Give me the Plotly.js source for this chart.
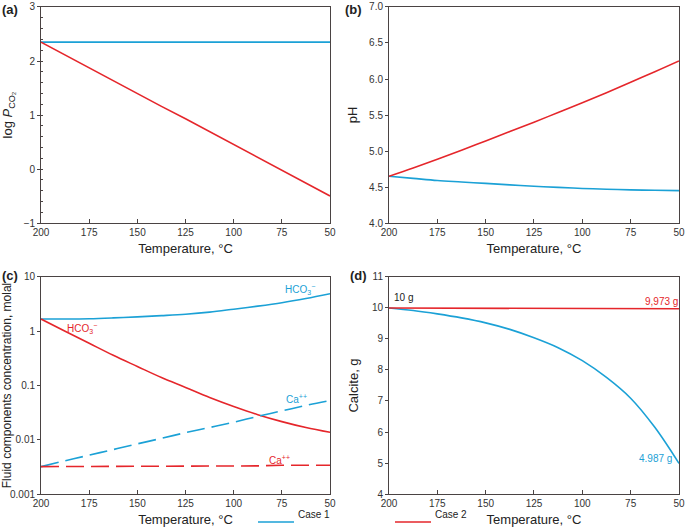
<!DOCTYPE html>
<html><head><meta charset="utf-8">
<script src="https://cdn.plot.ly/plotly-3.0.1.min.js"></script>
<style>html,body{margin:0;padding:0;background:#fff}#chart{width:685px;height:530px}</style>
</head><body><div id="chart"></div>
<script>
// Temperatures (°C)
const temps = [200, 187.5, 175, 162.5, 150, 137.5, 125, 112.5, 100, 87.5, 75, 62.5, 50];
// (a) log PCO2
const pco2Case1 = [2.35, 2.35, 2.35, 2.35, 2.35, 2.35, 2.35, 2.35, 2.35, 2.35, 2.35, 2.35, 2.35];
const pco2Case2 = [2.35, 2.11, 1.88, 1.64, 1.40, 1.16, 0.93, 0.69, 0.45, 0.21, -0.02, -0.26, -0.50];
// (b) pH
const phCase1 = [4.65, 4.62, 4.59, 4.57, 4.55, 4.53, 4.51, 4.495, 4.48, 4.47, 4.46, 4.455, 4.45];
const phCase2 = [4.65, 4.765, 4.885, 5.01, 5.14, 5.27, 5.40, 5.535, 5.67, 5.81, 5.955, 6.10, 6.25];
// (c) concentrations, molal
const hco3Case1 = [1.68, 1.68, 1.70, 1.76, 1.84, 1.94, 2.06, 2.25, 2.55, 2.9, 3.35, 4.0, 4.9];
const hco3Case2 = [1.68, 1.0, 0.6, 0.36, 0.224, 0.14, 0.092, 0.060, 0.041, 0.029, 0.0216, 0.0168, 0.0137];
const caCase1 = [0.0032, 0.0041, 0.0052, 0.0066, 0.0084, 0.0106, 0.0135, 0.0168, 0.021, 0.027, 0.034, 0.043, 0.053];
const caCase2 = [0.0032, 0.0032, 0.0032, 0.0032, 0.0032, 0.0032, 0.0033, 0.0033, 0.0033, 0.0033, 0.0034, 0.0034, 0.0034];
// (d) calcite, g
const calciteCase1 = [10.0, 9.92, 9.81, 9.68, 9.52, 9.31, 9.04, 8.72, 8.30, 7.76, 7.09, 6.15, 4.987];
const calciteCase2 = [10.0, 9.998, 9.996, 9.993, 9.991, 9.989, 9.986, 9.984, 9.982, 9.980, 9.978, 9.975, 9.973];
const caseNames = ['Case 1', 'Case 2'];
const xTicks = [200, 175, 150, 125, 100, 75, 50];

const BLUE = '#1ba1d6', RED = '#e5262b', AX = '#4a4343', TXT = '#333';
const F = 'Liberation Sans, Arial, sans-serif';

function tr(y, xa, ya, color, dash, curved) {
  return {x: temps, y: y, xaxis: xa, yaxis: ya, mode: 'lines', showlegend: false, hoverinfo: 'skip',
    line: {color: color, width: 1.6, dash: dash || 'solid', shape: curved ? 'spline' : 'linear', smoothing: 1}};
}
const data = [
  tr(pco2Case1, 'x', 'y', BLUE), tr(pco2Case2, 'x', 'y', RED),
  tr(phCase1, 'x2', 'y2', BLUE, null, true), tr(phCase2, 'x2', 'y2', RED, null, true),
  tr(hco3Case1, 'x3', 'y3', BLUE, null, true), tr(hco3Case2, 'x3', 'y3', RED, null, true),
  tr(caCase1, 'x3', 'y3', BLUE, '18px,7px', true), tr(caCase2, 'x3', 'y3', RED, '18px,7px'),
  tr(calciteCase1, 'x4', 'y4', BLUE, null, true), tr(calciteCase2, 'x4', 'y4', RED)
];

function xax(dom, anchor) {
  return {domain: dom, anchor: anchor, range: [200, 50], tickvals: xTicks, ticks: 'inside', ticklen: 4,
    tickcolor: AX, showline: true, linecolor: AX, linewidth: 1, mirror: true, showgrid: false, zeroline: false,
    tickfont: {family: F, size: 10, color: TXT},
    title: {text: 'Temperature, °C', font: {family: F, size: 13, color: '#222'}, standoff: 6}};
}
function yax(dom, anchor, extra) {
  return Object.assign({domain: dom, anchor: anchor, ticks: 'outside', ticklen: 3, tickcolor: AX,
    showline: true, linecolor: AX, linewidth: 1, mirror: true, showgrid: false, zeroline: false,
    tickfont: {family: F, size: 10, color: TXT},
    minor: {ticks: 'inside', ticklen: 2, tickcolor: AX}}, extra);
}
const xa = [0.0599, 0.4818], xb = [0.5679, 0.9912];
const yt = [0.5792, 0.9868], yb = [0.0679, 0.4774];

const layout = {
  width: 685, height: 530, margin: {l: 0, r: 0, t: 0, b: 0},
  paper_bgcolor: '#fff', plot_bgcolor: '#fff', showlegend: false,
  font: {family: F, color: TXT},
  xaxis: xax(xa, 'y'), xaxis2: xax(xb, 'y2'), xaxis3: xax(xa, 'y3'), xaxis4: xax(xb, 'y4'),
  yaxis: yax(yt, 'x', {range: [-1, 3], tickvals: [-1, 0, 1, 2, 3], ticktext: ['\u22121', '0', '1', '2', '3'],
    minor: {ticks: 'inside', ticklen: 2, tickcolor: AX, dtick: 0.2},
    title: {text: 'log <i>P</i><sub>CO\u2082</sub>', font: {family: F, size: 13, color: '#222'}, standoff: 8}}),
  yaxis2: yax(yt, 'x2', {range: [4, 7], tickvals: [4, 4.5, 5, 5.5, 6, 6.5, 7], tickformat: '.1f',
    minor: {ticks: '', tickcolor: AX},
    title: {text: 'pH', font: {family: F, size: 13, color: '#222'}, standoff: 8}}),
  yaxis3: yax(yb, 'x3', {type: 'log', range: [-3, 1], tickvals: [0.001, 0.01, 0.1, 1, 10],
    ticktext: ['0.001', '0.01', '0.1', '1', '10'], minor: {ticks: '', tickcolor: AX},
    title: {text: 'Fluid components concentration, molal', font: {family: F, size: 12, color: '#222'}, standoff: 3}}),
  yaxis4: yax(yb, 'x4', {range: [4, 11], tickvals: [4, 5, 6, 7, 8, 9, 10, 11], minor: {ticks: '', tickcolor: AX},
    title: {text: 'Calcite, g', font: {family: F, size: 13, color: '#222'}, standoff: 10}}),
  annotations: [
    {text: '<b>(a)</b>', xref: 'paper', yref: 'paper', x: 0.0, y: 1.0, xanchor: 'left', yanchor: 'top', showarrow: false, font: {family: F, size: 13, color: '#222'}},
    {text: '<b>(b)</b>', xref: 'paper', yref: 'paper', x: 0.500, y: 1.0, xanchor: 'left', yanchor: 'top', showarrow: false, font: {family: F, size: 13, color: '#222'}},
    {text: '<b>(c)</b>', xref: 'paper', yref: 'paper', x: 0.0, y: 0.4985, xanchor: 'left', yanchor: 'top', showarrow: false, font: {family: F, size: 13, color: '#222'}},
    {text: '<b>(d)</b>', xref: 'paper', yref: 'paper', x: 0.508, y: 0.4985, xanchor: 'left', yanchor: 'top', showarrow: false, font: {family: F, size: 13, color: '#222'}},
    {text: 'HCO<sub>3</sub><sup>\u2212</sup>', xref: 'x3', yref: 'y3', x: 65.6, y: 0.766, showarrow: false, font: {family: F, size: 10, color: BLUE}},
    {text: 'HCO<sub>3</sub><sup>\u2212</sup>', xref: 'x3', yref: 'y3', x: 178.7, y: 0.046, showarrow: false, font: {family: F, size: 10, color: RED}},
    {text: 'Ca<sup>++</sup>', xref: 'x3', yref: 'y3', x: 67.6, y: -1.246, showarrow: false, font: {family: F, size: 10, color: BLUE}},
    {text: 'Ca<sup>++</sup>', xref: 'x3', yref: 'y3', x: 76, y: -2.372, showarrow: false, font: {family: F, size: 10, color: RED}},
    {text: '10 g', xref: 'x4', yref: 'y4', x: 192.5, y: 10.33, showarrow: false, font: {family: F, size: 10, color: '#222'}},
    {text: '9,973 g', xref: 'x4', yref: 'y4', x: 58.8, y: 10.22, showarrow: false, font: {family: F, size: 10, color: RED}},
    {text: '4.987 g', xref: 'x4', yref: 'y4', x: 62.4, y: 5.15, showarrow: false, font: {family: F, size: 10, color: BLUE}},
    {text: caseNames[0], xref: 'paper', yref: 'paper', x: 296 / 685, y: 1 - 522 / 530, xanchor: 'left', showarrow: false, font: {family: F, size: 10, color: '#222'}},
    {text: caseNames[1], xref: 'paper', yref: 'paper', x: 433 / 685, y: 1 - 522 / 530, xanchor: 'left', showarrow: false, font: {family: F, size: 10, color: '#222'}}
  ],
  shapes: [
    {type: 'line', xref: 'paper', yref: 'paper', x0: 258 / 685, x1: 294 / 685, y0: 1 - 522 / 530, y1: 1 - 522 / 530, line: {color: BLUE, width: 1.6}},
    {type: 'line', xref: 'paper', yref: 'paper', x0: 395 / 685, x1: 431 / 685, y0: 1 - 522 / 530, y1: 1 - 522 / 530, line: {color: RED, width: 1.6}}
  ]
};
Plotly.newPlot('chart', data, layout, {staticPlot: true, displayModeBar: false});
</script></body></html>
